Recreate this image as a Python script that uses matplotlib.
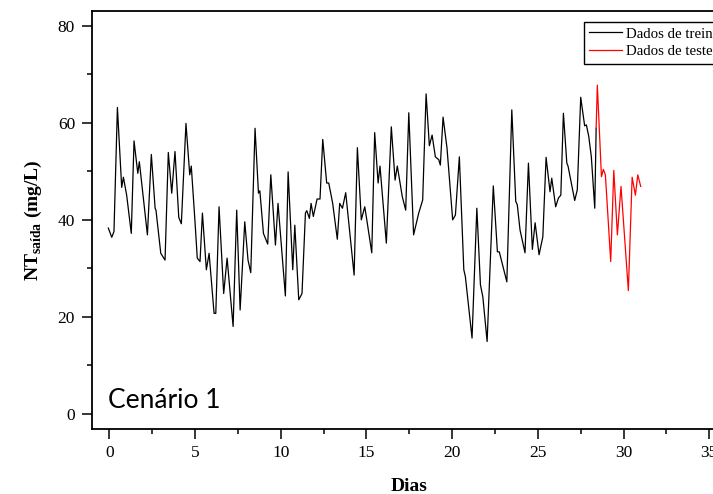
import matplotlib
matplotlib.use('Agg')
import matplotlib.pyplot as plt
from matplotlib.ticker import MultipleLocator

# dias / NT saida (mg/L)
treino_x = [-0.06, 0.14, 0.27, 0.47, 0.72, 0.82, 1.01, 1.28, 1.44, 1.66, 1.75, 1.95,
            2.22, 2.45, 2.67, 2.72, 3.0, 3.25, 3.44, 3.64, 3.83, 4.05, 4.2, 4.47,
            4.69, 4.78, 4.99, 5.13, 5.29, 5.43, 5.66, 5.82, 6.11, 6.21, 6.4, 6.67,
            6.87, 7.22, 7.43, 7.63, 7.9, 8.09, 8.25, 8.5, 8.7, 8.78, 8.99, 9.24,
            9.42, 9.69, 9.84, 10.27, 10.43, 10.7, 10.82, 11.05, 11.24, 11.44, 11.52,
            11.67, 11.77, 11.9, 12.12, 12.29, 12.45, 12.68, 12.8, 13.03, 13.3, 13.44,
            13.6, 13.79, 14.28, 14.47, 14.7, 14.9, 15.05, 15.31, 15.48, 15.68, 15.79,
            16.16, 16.45, 16.67, 16.8, 17.09, 17.29, 17.47, 17.75, 18.05, 18.28,
            18.48, 18.67, 18.83, 19.02, 19.22, 19.31, 19.47, 19.7, 20.03, 20.19,
            20.42, 20.68, 20.77, 21.16, 21.44, 21.65, 21.79, 22.04, 22.4, 22.64,
            22.75, 23.19, 23.48, 23.71, 23.8, 23.96, 24.25, 24.45, 24.68, 24.84,
            25.07, 25.29, 25.48, 25.71, 25.81, 26.04, 26.2, 26.34, 26.49, 26.69,
            26.76, 27.15, 27.3, 27.5, 27.73, 27.83, 27.97, 28.12, 28.32, 28.4]
treino_y = [38.3, 36.4, 37.6, 63.2, 46.7, 48.8, 45.1, 37.2, 56.3, 49.6, 52.0, 45.5,
            36.9, 53.5, 42.4, 42.0, 33.1, 31.7, 53.9, 45.5, 54.1, 40.5, 39.2, 59.9,
            49.3, 51.1, 40.0, 32.1, 31.4, 41.4, 29.7, 33.1, 20.7, 20.7, 42.7, 24.8,
            32.1, 18.0, 42.0, 21.4, 39.6, 31.7, 29.1, 58.9, 45.5, 46.0, 37.2, 35.0,
            49.3, 34.8, 43.4, 24.3, 49.9, 29.7, 38.9, 23.5, 24.8, 41.4, 41.9,
            40.3, 43.4, 40.7, 44.3, 44.3, 56.6, 47.6, 47.6, 43.4, 36.0, 43.4,
            42.4, 45.6, 28.6, 54.9, 40.0, 42.7, 39.3, 33.2, 58.0, 47.6, 51.1,
            35.2, 59.2, 48.2, 51.1, 44.8, 42.0, 62.1, 36.9, 41.4, 44.1,
            66.0, 55.3, 57.5, 53.0, 52.4, 51.3, 61.2, 54.8, 40.0, 41.0,
            53.0, 29.7, 28.3, 15.6, 42.4, 26.6, 24.1, 14.9, 47.0, 33.4,
            33.4, 27.2, 62.7, 43.8, 43.1, 37.9, 33.2, 51.7, 33.9, 39.4,
            32.8, 36.5, 52.9, 45.8, 48.6, 42.7, 44.5, 45.1, 62.0, 51.7,
            51.1, 44.0, 46.2, 65.3, 59.4, 59.6, 57.2, 53.0, 42.4, 58.9]

teste_x = [28.4, 28.47, 28.71, 28.82, 28.94, 29.25, 29.43, 29.64, 29.85, 30.28,
           30.5, 30.69, 30.83, 31.0]
teste_y = [58.9, 67.8, 48.9, 50.4, 49.3, 31.4, 50.2, 36.9, 46.9, 25.4,
           48.8, 45.1, 49.3, 46.9]

plt.rcParams['font.family'] = ['Liberation Serif', 'DejaVu Serif']
plt.rcParams['mathtext.fontset'] = 'custom'
plt.rcParams['mathtext.rm'] = 'Liberation Serif'
plt.rcParams['mathtext.bf'] = 'Liberation Serif:bold'

fig = plt.figure(figsize=(7.13, 4.94), dpi=100)
ax = fig.add_axes([0.1286, 0.1322, 0.8902, 0.8455])

ax.plot(treino_x, treino_y, color='black', lw=0.9, label='Dados de treino')
ax.plot(teste_x, teste_y, color='red', lw=0.9, label='Dados de teste')

ax.set_xlim(-1.03, 36)
ax.set_ylim(-3.1, 83.1)
ax.xaxis.set_major_locator(MultipleLocator(5))
ax.xaxis.set_minor_locator(MultipleLocator(2.5))
ax.yaxis.set_major_locator(MultipleLocator(20))
ax.yaxis.set_minor_locator(MultipleLocator(10))
ax.tick_params(which='major', direction='out', length=7, width=1.1, labelsize=12.5, pad=5)
ax.tick_params(which='minor', direction='out', length=3.6, width=1.1)
for s in ax.spines.values():
    s.set_linewidth(1.3)

ax.set_xlabel('Dias', fontsize=14, fontweight='bold', labelpad=12)
ax.set_ylabel(r'NT$_{\mathbf{saída}}$ (mg/L)', fontsize=14, fontweight='bold', labelpad=10)

ax.text(-0.07, 1.2, 'Cenário 1', fontsize=19, family=['Lato', 'DejaVu Sans'], va='baseline')

ax.legend(loc='upper left', bbox_to_anchor=(583.7 / 713, 1 - 22 / 494),
          bbox_transform=fig.transFigure, fontsize=10.7, frameon=True, fancybox=False,
          edgecolor='black', framealpha=1, borderpad=0.35, borderaxespad=0,
          labelspacing=0.3, handlelength=2.2, handletextpad=0.3)

fig.savefig('out.png', dpi=100)
